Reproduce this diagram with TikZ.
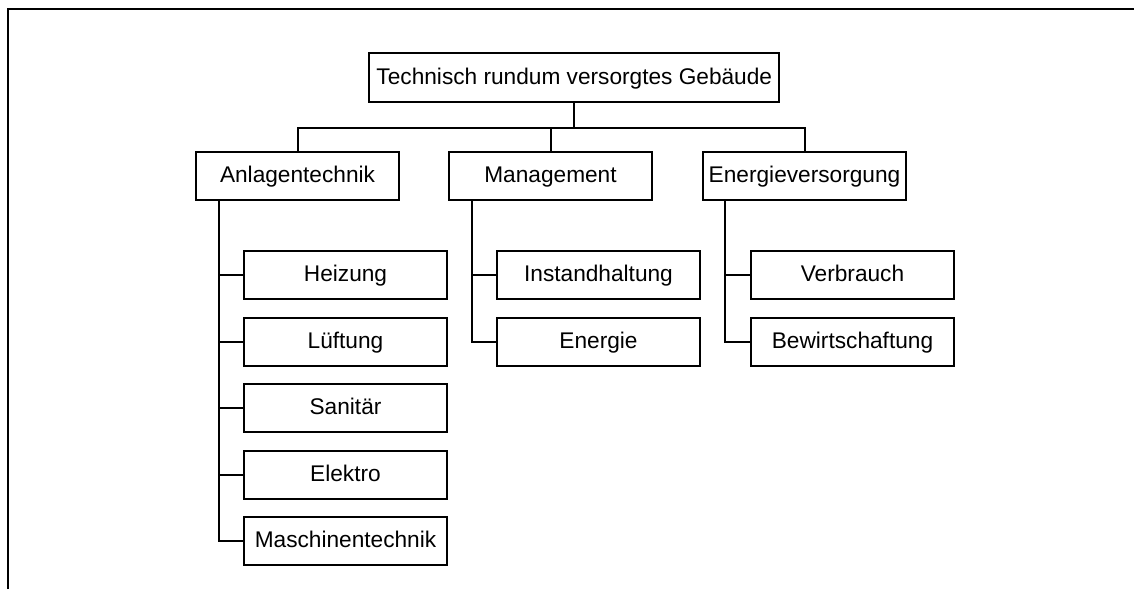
\documentclass[tikz,border=0pt]{standalone}
\usepackage{fontspec}
\setmainfont{Liberation Sans}
\begin{document}
\begin{tikzpicture}[x=0.75pt,y=-0.75pt,
  box/.style={draw,line width=1.5pt,minimum width=152.25pt,minimum height=36pt,
              inner sep=0pt,text height=12.9pt,text depth=3.1pt,
              font=\fontsize{17pt}{20pt}\selectfont},
  rootbox/.style={box,minimum width=307.5pt,minimum height=36.75pt},
  link/.style={line width=1.5pt}]
\useasboundingbox (0,0) rectangle (1134,589);

% open frame: top and left edges only
\draw[line width=2pt] (8,589) -- (8,9) -- (1134,9);

% top level
\node[rootbox] (root) at (574.3,77.5) {Technisch rundum versorgtes Gebäude};

% second level
\node[box] (anl) at (297.5,176) {Anlagentechnik};
\node[box] (man) at (550.5,176) {Management};
\node[box] (ene) at (804.5,176) {Energieversorgung};

% third level
\node[box] (heiz) at (345.5,275)   {Heizung};
\node[box] (lueft) at (345.5,341.5) {Lüftung};
\node[box] (sani) at (345.5,408)   {Sanitär};
\node[box] (elek) at (345.5,474.5) {Elektro};
\node[box] (masch) at (345.5,541)  {Maschinentechnik};

\node[box] (inst) at (598.5,275)   {Instandhaltung};
\node[box] (energ) at (598.5,341.5) {Energie};

\node[box] (verb) at (852.5,275)   {Verbrauch};
\node[box] (bew) at (852.5,341.5)  {Bewirtschaftung};

% bus between the top node and the second level
\coordinate (bus) at (574.3,127.5);
\draw[link] (root.south) -- (bus);
\draw[link] (anl.north) -- (anl.north |- bus) -- (ene.north |- bus) -- (ene.north);
\draw[link] (man.north) -- (man.north |- bus);

% trunks to the third level
\foreach \c in {heiz,lueft,sani,elek,masch}
  \draw[link] ([xshift=18pt]anl.south west) |- (\c.west);
\foreach \c in {inst,energ}
  \draw[link] ([xshift=18pt]man.south west) |- (\c.west);
\foreach \c in {verb,bew}
  \draw[link] ([xshift=17.5pt]ene.south west) |- (\c.west);
\end{tikzpicture}
\end{document}
